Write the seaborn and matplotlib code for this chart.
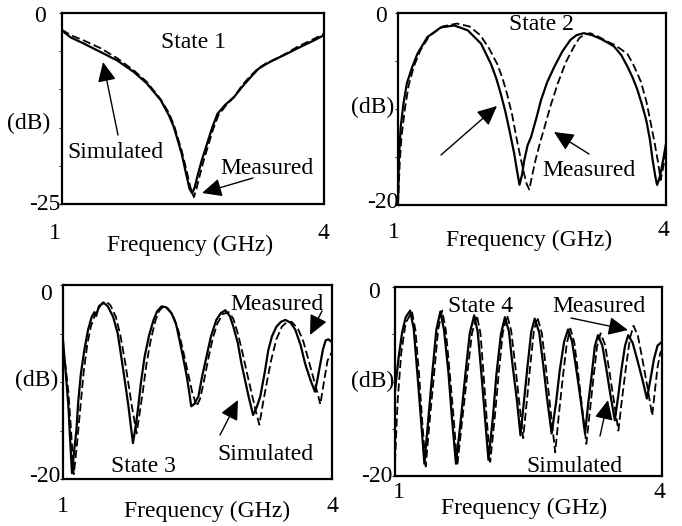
import numpy as np
import pandas as pd
import matplotlib
matplotlib.use("Agg")
import matplotlib.pyplot as plt
import seaborn as sns

# ---------------- data ----------------
s1_x_solid = [1.00, 1.10, 1.25, 1.44, 1.63, 1.82, 1.97, 2.13, 2.22, 2.28, 2.37, 2.42, 2.46, 2.49,
              2.52, 2.55, 2.60, 2.65, 2.72, 2.78, 2.87, 2.97, 3.06, 3.16, 3.25, 3.35, 3.47, 3.58,
              3.70, 3.81, 3.90, 4.00]
s1_y_solid = [-2.3, -3.2, -4.0, -5.1, -6.2, -7.7, -9.2, -11.4, -13.3, -14.9, -18.4, -21.0, -23.0, -23.6,
              -22.8, -21.4, -19.3, -17.5, -15.0, -13.2, -12.0, -11.0, -9.7, -8.4, -7.3, -6.6, -5.9, -5.3,
              -4.6, -4.0, -3.5, -2.9]
s1_x_dash = [1.00, 1.10, 1.25, 1.44, 1.63, 1.82, 1.97, 2.13, 2.22, 2.28, 2.37, 2.43, 2.47, 2.51,
             2.54, 2.57, 2.62, 2.67, 2.73, 2.79, 2.87, 2.97, 3.06, 3.16, 3.25, 3.35, 3.47, 3.58,
             3.70, 3.81, 3.90, 4.00]
s1_y_dash = [-2.2, -2.9, -3.6, -4.6, -5.9, -7.5, -9.0, -11.3, -13.0, -14.6, -18.0, -20.8, -22.8, -24.1,
             -23.0, -21.6, -19.4, -17.5, -15.2, -13.4, -12.2, -11.0, -9.5, -8.2, -7.2, -6.5, -5.9, -5.2,
             -4.4, -3.8, -3.3, -2.7]

s2_x_solid = [1.00, 1.01, 1.03, 1.06, 1.10, 1.16, 1.22, 1.33, 1.48, 1.63, 1.78, 1.93, 2.04, 2.10,
              2.15, 2.20, 2.24, 2.30, 2.33, 2.36, 2.39, 2.41, 2.45, 2.49, 2.55, 2.60, 2.67, 2.75,
              2.84, 2.93, 3.00, 3.08, 3.17, 3.27, 3.35, 3.42, 3.50, 3.57, 3.63, 3.68, 3.73, 3.78,
              3.82, 3.85, 3.88, 3.90, 3.92, 3.94, 3.97, 4.00]
s2_y_solid = [-19.5, -15.0, -11.9, -9.5, -7.3, -5.6, -4.2, -2.5, -1.5, -1.3, -1.8, -3.2, -5.3, -6.8,
              -8.4, -10.2, -11.9, -14.6, -16.3, -17.9, -16.8, -15.5, -13.8, -12.9, -10.9, -9.1, -7.2, -5.6,
              -4.0, -2.8, -2.3, -2.1, -2.3, -2.7, -3.1, -3.5, -4.4, -5.6, -6.8, -8.0, -9.5, -11.2,
              -13.2, -15.3, -17.0, -17.9, -17.4, -16.7, -15.2, -13.6]
s2_x_dash = [1.00, 1.02, 1.04, 1.08, 1.12, 1.18, 1.25, 1.35, 1.50, 1.66, 1.80, 1.92, 2.02, 2.11,
             2.17, 2.22, 2.28, 2.33, 2.37, 2.41, 2.44, 2.47, 2.50, 2.54, 2.59, 2.64, 2.71, 2.79,
             2.88, 2.97, 3.03, 3.08, 3.15, 3.25, 3.35, 3.42, 3.50, 3.57, 3.63, 3.68, 3.72, 3.78,
             3.83, 3.87, 3.91, 3.94, 3.97, 4.00]
s2_y_dash = [-20.0, -15.5, -12.8, -9.8, -7.5, -5.5, -3.9, -2.4, -1.4, -1.1, -1.4, -2.3, -3.7, -5.3,
             -6.8, -8.4, -10.7, -13.2, -15.0, -16.7, -17.8, -18.4, -17.0, -15.3, -13.5, -11.9, -9.6, -7.3,
             -5.1, -3.5, -2.6, -2.3, -2.1, -2.5, -3.0, -3.3, -3.8, -4.3, -5.3, -6.3, -7.2, -9.2,
             -11.5, -13.4, -15.5, -17.4, -16.0, -14.5]

s3_x_solid = [1.00, 1.03, 1.06, 1.08, 1.10, 1.12, 1.15, 1.17, 1.20, 1.24, 1.28, 1.32, 1.35, 1.37,
              1.40, 1.45, 1.50, 1.56, 1.61, 1.65, 1.69, 1.73, 1.76, 1.78, 1.81, 1.84, 1.87, 1.91,
              1.96, 2.01, 2.05, 2.10, 2.15, 2.21, 2.26, 2.30, 2.34, 2.38, 2.41, 2.43, 2.46, 2.51,
              2.55, 2.60, 2.65, 2.71, 2.76, 2.81, 2.86, 2.90, 2.95, 2.99, 3.03, 3.07, 3.12, 3.16,
              3.20, 3.25, 3.29, 3.33, 3.38, 3.43, 3.48, 3.54, 3.59, 3.65, 3.70, 3.76, 3.81, 3.84,
              3.87, 3.90, 3.93, 3.96, 4.00]
s3_y_solid = [-5.7, -9.0, -12.5, -16.0, -19.4, -17.5, -14.9, -12.0, -9.1, -6.6, -4.6, -3.3, -2.8, -3.2,
              -2.2, -1.8, -2.2, -3.3, -5.0, -7.4, -9.9, -12.5, -14.8, -16.3, -14.6, -12.5, -10.0, -7.4,
              -5.2, -3.6, -2.7, -2.2, -2.3, -2.9, -4.0, -5.7, -7.5, -9.4, -11.2, -12.5, -12.3, -11.5,
              -9.5, -7.4, -5.3, -3.6, -2.9, -2.6, -3.2, -4.3, -6.0, -8.1, -9.8, -11.5, -13.4, -12.6,
              -11.5, -9.0, -6.7, -5.3, -4.3, -3.8, -3.6, -3.9, -4.6, -6.2, -8.1, -9.8, -11.0, -9.6,
              -8.1, -6.6, -5.7, -5.6, -5.9]
s3_x_dash = [1.00, 1.03, 1.06, 1.09, 1.12, 1.15, 1.19, 1.23, 1.27, 1.31, 1.36, 1.42, 1.48, 1.53,
             1.59, 1.64, 1.69, 1.73, 1.77, 1.82, 1.85, 1.89, 1.93, 1.98, 2.03, 2.07, 2.12, 2.17,
             2.23, 2.29, 2.34, 2.39, 2.44, 2.49, 2.53, 2.57, 2.62, 2.67, 2.72, 2.78, 2.85, 2.90,
             2.95, 3.00, 3.05, 3.10, 3.15, 3.19, 3.23, 3.27, 3.32, 3.38, 3.44, 3.50, 3.55, 3.62,
             3.68, 3.74, 3.79, 3.84, 3.87, 3.91, 3.95, 4.00]
s3_y_dash = [-6.7, -8.5, -11.0, -15.0, -19.5, -17.0, -13.0, -9.0, -6.2, -4.3, -3.0, -2.1, -1.7, -2.1,
             -3.3, -5.2, -7.8, -10.2, -12.6, -15.3, -13.5, -11.0, -8.2, -5.6, -3.7, -2.7, -2.2, -2.4,
             -3.2, -4.8, -6.8, -8.9, -11.0, -12.5, -11.7, -10.0, -7.6, -5.5, -4.0, -3.0, -2.8, -3.5,
             -5.0, -6.9, -9.0, -11.0, -13.0, -14.4, -12.2, -10.2, -7.8, -5.6, -4.3, -3.8, -3.8, -4.5,
             -5.8, -7.8, -9.5, -11.2, -12.3, -10.0, -7.8, -6.9]

s4_x_solid = [1.00, 1.04, 1.08, 1.12, 1.17,
              1.21, 1.25, 1.29, 1.33, 1.375, 1.42, 1.465, 1.51,
              1.55, 1.60, 1.64, 1.685, 1.74, 1.79, 1.84, 1.89,
              1.93, 1.97, 2.01, 2.05, 2.10, 2.14, 2.19, 2.235,
              2.28, 2.32, 2.37, 2.41, 2.45, 2.49, 2.53, 2.57,
              2.62, 2.665, 2.71, 2.76, 2.81, 2.85, 2.90, 2.945,
              2.99, 3.04, 3.09, 3.135, 3.17, 3.21, 3.245, 3.28,
              3.33, 3.375, 3.42, 3.47, 3.51, 3.545, 3.585, 3.62,
              3.67, 3.725, 3.78, 3.83, 3.87, 3.91, 3.95, 4.00]
s4_y_solid = [-11.0, -7.5, -4.8, -3.2, -2.5,
              -4.4, -9.0, -13.8, -18.7, -13.9, -9.0, -4.5, -2.6,
              -4.5, -9.0, -13.9, -18.7, -14.0, -9.3, -4.9, -3.0,
              -4.8, -9.1, -13.7, -18.3, -13.8, -9.2, -5.0, -3.2,
              -4.7, -8.2, -12.0, -15.7, -12.0, -8.3, -4.8, -3.35,
              -4.8, -8.2, -11.9, -15.5, -12.2, -8.9, -5.8, -4.5,
              -5.8, -8.9, -12.2, -15.5, -12.4, -9.3, -6.3, -5.1,
              -6.2, -8.7, -11.4, -14.1, -11.4, -8.7, -6.2, -5.1,
              -5.9, -7.8, -9.8, -11.8, -9.8, -7.6, -6.2, -5.8]
s4_x_dash = [1.00, 1.03, 1.07, 1.12, 1.19,
             1.23, 1.27, 1.305, 1.345, 1.39, 1.44, 1.485, 1.53,
             1.57, 1.615, 1.66, 1.70, 1.755, 1.81, 1.865, 1.92,
             1.96, 1.995, 2.03, 2.07, 2.12, 2.165, 2.21, 2.26,
             2.305, 2.35, 2.395, 2.44, 2.48, 2.52, 2.56, 2.60,
             2.65, 2.70, 2.75, 2.80, 2.84, 2.885, 2.93, 2.97,
             3.015, 3.06, 3.105, 3.15, 3.19, 3.23, 3.27, 3.31,
             3.36, 3.41, 3.46, 3.51, 3.55, 3.595, 3.64, 3.68,
             3.73, 3.785, 3.84, 3.89, 3.92, 3.95, 3.98, 4.00]
s4_y_dash = [-18.5, -12.0, -7.0, -3.8, -2.6,
             -4.6, -9.2, -14.1, -19.0, -14.1, -9.1, -4.5, -2.5,
             -4.5, -9.1, -14.0, -18.9, -14.1, -9.4, -4.9, -3.0,
             -4.9, -9.2, -13.9, -18.5, -13.9, -9.2, -4.9, -3.0,
             -4.6, -8.2, -12.1, -16.0, -12.2, -8.3, -4.7, -3.2,
             -4.9, -8.9, -13.2, -17.5, -13.6, -9.6, -6.0, -4.4,
             -5.9, -9.3, -13.0, -16.6, -13.1, -9.6, -6.3, -4.9,
             -6.1, -9.0, -12.1, -15.2, -11.9, -8.5, -5.4, -4.1,
             -5.2, -7.9, -10.8, -13.6, -11.0, -8.5, -7.0, -6.7]

y_bottoms = [-25, -20, -20, -20]
y_bottom_labels = ["-25", "-20", "-20", "-20"]
x_labels = ["1", "4"]
state_labels = ["State 1", "State 2", "State 3", "State 4"]

panels = [
    (s1_x_solid, s1_y_solid, s1_x_dash, s1_y_dash),
    (s2_x_solid, s2_y_solid, s2_x_dash, s2_y_dash),
    (s3_x_solid, s3_y_solid, s3_x_dash, s3_y_dash),
    (s4_x_solid, s4_y_solid, s4_x_dash, s4_y_dash),
]

# ---------------- figure ----------------
sns.set_style("white")
plt.rcParams["font.family"] = ["Liberation Serif", "DejaVu Serif"]
W, H = 682, 526
fig = plt.figure(figsize=(W / 100, H / 100), dpi=100)

# axes boxes in reference pixels: left, top, right, bottom
boxes = [(62, 13, 324, 204), (398, 13, 666, 205), (63, 285, 332, 479), (395, 287, 662, 476)]

FS = 17


def fx(x):
    return x / W


def fy(y):
    return 1 - y / H


def ftext(x, y, s, ha="center", va="center", size=FS):
    fig.text(fx(x), fy(y), s, ha=ha, va=va, fontsize=size, color="black")


def farrow(x0, y0, x1, y1):
    fig.add_artist(matplotlib.patches.FancyArrowPatch(
        (fx(x0), fy(y0)), (fx(x1), fy(y1)), transform=fig.transFigure,
        arrowstyle="-|>,head_length=0.6,head_width=0.28", mutation_scale=20,
        lw=1.0, color="black", shrinkA=0, shrinkB=0, zorder=10))


for i, ((xs, ys, xd, yd), (l, t, r, b)) in enumerate(zip(panels, boxes)):
    ax = fig.add_axes([fx(l), fy(b), (r - l) / W, (b - t) / H])
    sns.lineplot(x=xs, y=ys, ax=ax, color="black", lw=1.6, estimator=None, sort=False)
    sns.lineplot(x=xd, y=yd, ax=ax, color="black", lw=1.3, estimator=None, sort=False,
                 linestyle=(0, (4.5, 2)))
    ax.set_xlim(1, 4)
    ax.set_ylim(y_bottoms[i], 0)
    ax.set_xticks([])
    ax.set_yticks(np.arange(y_bottoms[i], 1, 5))
    ax.set_yticklabels([])
    ax.tick_params(axis="y", direction="out", length=2.5, width=0.8, left=True)
    ax.set_xlabel("")
    ax.set_ylabel("")
    for sp in ax.spines.values():
        sp.set_visible(True)
        sp.set_linewidth(1.6)
        sp.set_color("black")

# ---------------- texts ----------------
# Panel 1
ftext(46, 17, "0", ha="right")
ftext(61, 204, y_bottom_labels[0], ha="right")
ftext(29, 123, "(dB)")
ftext(55, 234, x_labels[0])
ftext(323, 233, x_labels[1])
ftext(190, 245, "Frequency (GHz)")
ftext(193, 43, state_labels[0])
ftext(115, 152, "Simulated")
ftext(267, 168, "Measured")
farrow(118, 135, 103, 62)
farrow(253, 178, 202, 193)

# Panel 2
ftext(387, 17, "0", ha="right")
ftext(398, 202, y_bottom_labels[1], ha="right")
ftext(373, 107, "(dB)")
ftext(394, 232, x_labels[0])
ftext(663, 230, x_labels[1])
ftext(529, 240, "Frequency (GHz)")
ftext(541, 25, state_labels[1])
ftext(589, 170, "Measured")
farrow(589, 154, 554, 132)
farrow(441, 155, 497, 106)

# Panel 3
ftext(52, 295, "0", ha="right")
ftext(61, 476, y_bottom_labels[2], ha="right")
ftext(37, 380, "(dB)")
ftext(63, 506, x_labels[0])
ftext(332, 506, x_labels[1])
ftext(207, 511, "Frequency (GHz)")
ftext(143, 466, state_labels[2])
ftext(277, 305, "Measured")
ftext(265, 455, "Simulated")
farrow(322, 311, 310, 335)
farrow(220, 435, 238, 400)

# Panel 4
ftext(380, 293, "0", ha="right")
ftext(392, 476, y_bottom_labels[3], ha="right")
ftext(373, 381, "(dB)")
ftext(399, 493, x_labels[0])
ftext(659, 493, x_labels[1])
ftext(524, 508, "Frequency (GHz)")
ftext(481, 306, state_labels[3])
ftext(599, 306, "Measured")
ftext(574, 466, "Simulated")
farrow(571, 318, 628, 330)
farrow(600, 436, 608, 400)

fig.savefig("out.png", dpi=100, facecolor="white")
